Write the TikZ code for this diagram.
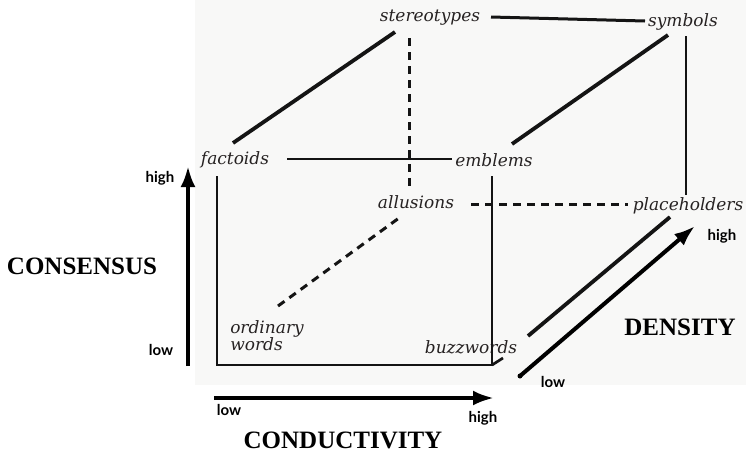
\documentclass[tikz,border=0pt]{standalone}
\usepackage{fontspec}
\setmainfont{Liberation Serif}
\newfontfamily\labelfont{DejaVu Serif}
\newfontfamily\axisfont{Lato}
\usetikzlibrary{arrows.meta,calc}
\definecolor{ink}{HTML}{141414}
\definecolor{txt}{HTML}{262222}
\definecolor{paper}{HTML}{F8F8F7}
\tikzset{
  word/.style={font=\labelfont\itshape\fontsize{17}{19}\selectfont, text=txt, inner sep=0pt},
  edge/.style={draw=ink, line width=2.7pt},
  slant/.style={draw=ink, line width=3.8pt},
  hidden/.style={draw=ink, line width=3pt, dash pattern=on 8pt off 6pt},
  axis/.style={draw=black, line width=4pt, -{Latex[length=21pt,width=15pt]}},
  axislabel/.style={font=\bfseries\fontsize{25}{27}\selectfont, inner sep=0pt},
  tick/.style={font=\axisfont\bfseries\fontsize{15}{17}\selectfont, inner sep=0pt}
}
\begin{document}
\begin{tikzpicture}[x=1pt,y=-1pt]
\useasboundingbox (0,0) rectangle (746,456);
\fill[paper] (195,0) rectangle (746,385);

% words
\node[word] (stereotypes) at (430,18) {stereotypes};
\node[word] (symbols) at (683,22) {symbols};
\node[word] (factoids) at (235,160) {factoids};
\node[word] (emblems) at (494,160) {emblems};
\node[word] (allusions) at (416,202) {allusions};
\node[word] (placeholders) at (688,206) {placeholders};
\node[word, align=left] (ordinary) at (267,336) {ordinary\\[-2pt]words};
\node[word] (buzzwords) at (471,347) {buzzwords};

% cube
\coordinate (fl) at (217,365);
\coordinate (fr) at (492,365);
\draw[edge, line width=3pt] ($(stereotypes)+(61,-1)$) -- ($(symbols)+(-38,-1)$);
\draw[slant] ($(factoids)+(-2,-17)$) -- ($(stereotypes)+(-35,14)$);
\draw[slant] ($(emblems)+(18,-16)$) -- ($(symbols)+(-15,13)$);
\draw[edge] ($(factoids)+(52,-1)$) -- ($(emblems)+(-42,-1)$);
\draw[edge] ($(symbols)+(3,14)$) -- ($(placeholders)+(-2,-11)$);
\draw[edge] ($(factoids)+(-18,16)$) -- (fl) -- (fr) -- ($(emblems)+(-2,16)$);
\draw[edge] (fr) -- ++(11,-7);
\draw[slant] ($(buzzwords)+(57,-11)$) -- ($(placeholders)+(-18,11)$);
\draw[hidden] ($(stereotypes)+(-21,20)$) -- ($(allusions)+(-7,-16)$);
\draw[hidden] ($(allusions)+(55,2)$) -- ($(placeholders)+(-60,-2)$);
\draw[hidden] ($(ordinary)+(11,-30)$) -- ($(allusions)+(-17,16)$);

% axes
\coordinate (c0) at (188,366);
\coordinate (c1) at (188,166);
\coordinate (k0) at (214,398);
\coordinate (k1) at (494,398);
\coordinate (d0) at (520,376);
\coordinate (d1) at (695,226);
\draw[axis] (c0) -- (c1);
\draw[axis] (k0) -- (k1);
\draw[axis] (d0) -- (d1);
\fill (d0) circle (2.5pt);

\node[tick] (chigh) at (160,178) {high};
\node[tick] (clow) at (161,350) {low};
\node[tick] (klow) at (229,410) {low};
\node[tick] (khigh) at (483,418) {high};
\node[tick] (dlow) at (553,382) {low};
\node[tick] (dhigh) at (722,236) {high};

\node[axislabel] (consensus) at (82,266) {CONSENSUS};
\node[axislabel] (conductivity) at (343,440) {CONDUCTIVITY};
\node[axislabel] (density) at (680,327) {DENSITY};
\end{tikzpicture}
\end{document}
